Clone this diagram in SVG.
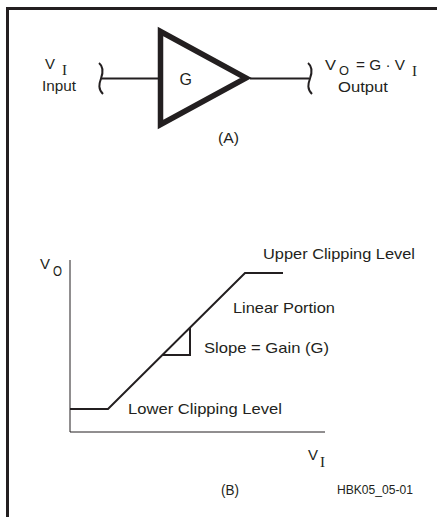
<svg xmlns="http://www.w3.org/2000/svg" width="437" height="517" viewBox="0 0 437 517">
<style>
.t{font-family:"Liberation Sans",Arial,sans-serif;font-size:15px;fill:#231f20}
.s{font-family:"Liberation Serif","Times New Roman",serif;font-size:15px;fill:#231f20}
.ln{stroke:#231f20;fill:none}
</style>
<rect width="437" height="517" fill="#fff"/>
<g id="frame"><rect x="6" y="7" width="431" height="3" fill="#231f20"/><rect x="6" y="7" width="3" height="510" fill="#231f20"/></g>
<g id="input">
<text class="t" x="45" y="69" textLength="10" lengthAdjust="spacingAndGlyphs">V</text>
<text class="s" x="62" y="75">I</text>
<text class="t" x="42" y="91" textLength="34" lengthAdjust="spacingAndGlyphs">Input</text>
</g>
<g id="amplifier">
<polygon class="ln" points="160.5,31.5 160.5,124.5 246,78" stroke-width="5.5" stroke-linejoin="miter"/>
<text class="t" x="179.5" y="85" style="font-size:16px">G</text>
</g>
<g id="output">
<text class="t" x="325" y="70" textLength="11" lengthAdjust="spacingAndGlyphs">V</text>
<text class="t" x="339" y="75" style="font-size:13px" textLength="10" lengthAdjust="spacingAndGlyphs">O</text>
<text class="t" x="356" y="70" textLength="49" lengthAdjust="spacingAndGlyphs">= G · V</text>
<text class="s" x="412" y="76">I</text>
<text class="t" x="338" y="92" textLength="50" lengthAdjust="spacingAndGlyphs">Output</text>
</g>
<g id="connectors">
<line class="ln" x1="101" y1="78.5" x2="158" y2="78.5" stroke-width="2"/>
<line class="ln" x1="250" y1="78.5" x2="309" y2="78.5" stroke-width="2"/>
<path class="ln" d="M99,63 C104,67 103,73 101,78.5 C99,84 98,89 103,94" stroke-width="2"/>
<path class="ln" d="M308,63 C313,67 312,73 310,78.5 C308,84 307,89 312,94" stroke-width="2"/>
</g>
<text class="t" x="218" y="143" textLength="21" lengthAdjust="spacingAndGlyphs">(A)</text>
<g id="graph">
<polyline class="ln" points="70,260 70,432 325,432" stroke-width="1"/>
<polyline class="ln" points="70,409 108,409 245,273 283,273" stroke-width="2"/>
<polyline class="ln" points="190,327 190,355 163,355" stroke-width="2"/>
<text class="t" x="40" y="269" textLength="10" lengthAdjust="spacingAndGlyphs">V</text>
<text class="t" x="53" y="276" style="font-size:14px" textLength="9" lengthAdjust="spacingAndGlyphs">O</text>
<text class="t" x="263" y="259" textLength="152" lengthAdjust="spacingAndGlyphs">Upper Clipping Level</text>
<text class="t" x="233" y="313" textLength="102" lengthAdjust="spacingAndGlyphs">Linear Portion</text>
<text class="t" x="204" y="353" textLength="125" lengthAdjust="spacingAndGlyphs">Slope = Gain (G)</text>
<text class="t" x="128" y="414" textLength="154" lengthAdjust="spacingAndGlyphs">Lower Clipping Level</text>
<text class="t" x="308" y="460" textLength="10" lengthAdjust="spacingAndGlyphs">V</text>
<text class="s" x="320" y="467">I</text>
</g>
<text class="t" x="221" y="495" textLength="18" lengthAdjust="spacingAndGlyphs">(B)</text>
<text class="t" x="337" y="494" style="font-size:12px" textLength="76" lengthAdjust="spacingAndGlyphs">HBK05_05-01</text>
</svg>
